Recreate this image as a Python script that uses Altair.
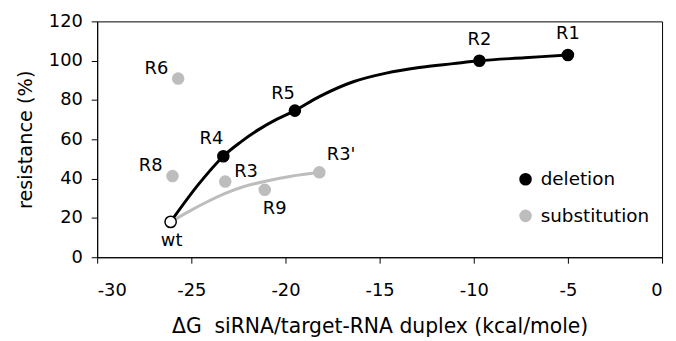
import altair as alt
import pandas as pd

# ---- data ----
del_names = ["R4", "R5", "R2", "R1"]
del_x = [-23.3, -19.5, -9.7, -5.0]
del_y = [51.4, 74.6, 100.0, 102.9]

sub_names = ["R6", "R8", "R3", "R9", "R3'"]
sub_x = [-25.7, -26.0, -23.2, -21.1, -18.2]
sub_y = [90.9, 41.3, 38.5, 34.3, 43.2]

wt_name = ["wt"]
wt_x = [-26.1]
wt_y = [18.0]

del_curve_x = [-26.1, -24.6, -23.3, -22.35, -21.45, -20.5, -19.5, -18.15,
               -16.4, -14.65, -12.9, -11.1, -9.7, -7.3, -5.0]
del_curve_y = [18.0, 37.3, 51.4, 58.8, 64.8, 70.0, 74.6, 82.0,
               89.3, 93.7, 96.5, 98.5, 100.0, 101.5, 102.9]

sub_curve_x = [-26.1, -25.0, -24.1, -23.2, -22.2, -21.0, -19.7, -18.2]
sub_curve_y = [18.0, 24.0, 28.5, 32.5, 36.0, 38.8, 41.2, 43.2]

x_ticks = [-30, -25, -20, -15, -10, -5, 0]
y_ticks = [0, 20, 40, 60, 80, 100, 120]

FONT = "DejaVu Sans"
GRAY = "#bdbdbd"

pts = pd.DataFrame({
    "name": del_names + sub_names,
    "x": del_x + sub_x,
    "y": del_y + sub_y,
    "type": ["deletion"] * len(del_names) + ["substitution"] * len(sub_names),
})
wt = pd.DataFrame({"name": wt_name, "x": wt_x, "y": wt_y})
labels = pd.concat([pts[["name", "x", "y"]], wt], ignore_index=True)
dcurve = pd.DataFrame({"x": del_curve_x, "y": del_curve_y})
scurve = pd.DataFrame({"x": sub_curve_x, "y": sub_curve_y})

xs = alt.Scale(domain=[-30, 0], nice=False)
ys = alt.Scale(domain=[0, 120], nice=False)

X = alt.X("x:Q", scale=xs, axis=alt.Axis(
    values=x_ticks, title="ΔG\u00a0 siRNA/target-RNA duplex (kcal/mole)",
    labelExpr="'' + datum.value",
    labelFontSize=18, titleFontSize=20.5, labelPadding=19, titlePadding=17))
Y = alt.Y("y:Q", scale=ys, axis=alt.Axis(
    values=y_ticks, title="resistance (%)",
    labelFontSize=18, titleFontSize=19.5, labelPadding=9, titlePadding=13))

line_del = alt.Chart(dcurve).mark_line(color="black", strokeWidth=3, interpolate="catmull-rom").encode(x=X, y=Y)
line_sub = alt.Chart(scurve).mark_line(color=GRAY, strokeWidth=3, interpolate="catmull-rom").encode(x=X, y=Y)

points = alt.Chart(pts).mark_circle(size=160, opacity=1).encode(
    x=X, y=Y,
    color=alt.Color("type:N", scale=alt.Scale(domain=["deletion", "substitution"], range=["black", GRAY]),
                    legend=alt.Legend(title=None, orient="none", legendX=423, legendY=150,
                                      labelFontSize=18.5, labelFont=FONT, symbolSize=160,
                                      symbolType="circle", rowPadding=18, labelOffset=6,
                                      padding=0, symbolStrokeWidth=0)),
)
wt_pt = alt.Chart(wt).mark_point(shape="circle", size=130, filled=True, fill="white",
                                  stroke="black", strokeWidth=1.5, opacity=1).encode(x=X, y=Y)


def lab(names, dx, dy):
    return alt.Chart(labels).transform_filter(
        alt.FieldOneOfPredicate(field="name", oneOf=names)
    ).mark_text(font=FONT, fontSize=18, dx=dx, dy=dy, align="center", baseline="middle",
                color="black").encode(x=X, y=Y, text="name:N")


texts = [
    lab(["R1", "R2"], 0, -21),
    lab(["R4", "R5"], -12, -17),
    lab(["R6", "R8"], -22, -10),
    lab(["R3"], 21, -10),
    lab(["R3'"], 22, -17),
    lab(["R9"], 10, 19),
    lab(["wt"], 1, 19),
]

chart = alt.layer(line_del, line_sub, points, wt_pt, *texts).properties(
    width=570, height=238,
    autosize=alt.AutoSizeParams(type="none"),
    padding={"left": 90, "top": 12, "right": 6, "bottom": 82},
).configure_view(stroke="black", strokeWidth=1).configure_axis(
    grid=False, domainColor="black", tickColor="black", tickSize=6,
    labelColor="black", titleColor="black", labelFont=FONT, titleFont=FONT,
    titleFontWeight="normal",
)

chart.save("out.html", embed_options={"renderer": "svg", "actions": False})
